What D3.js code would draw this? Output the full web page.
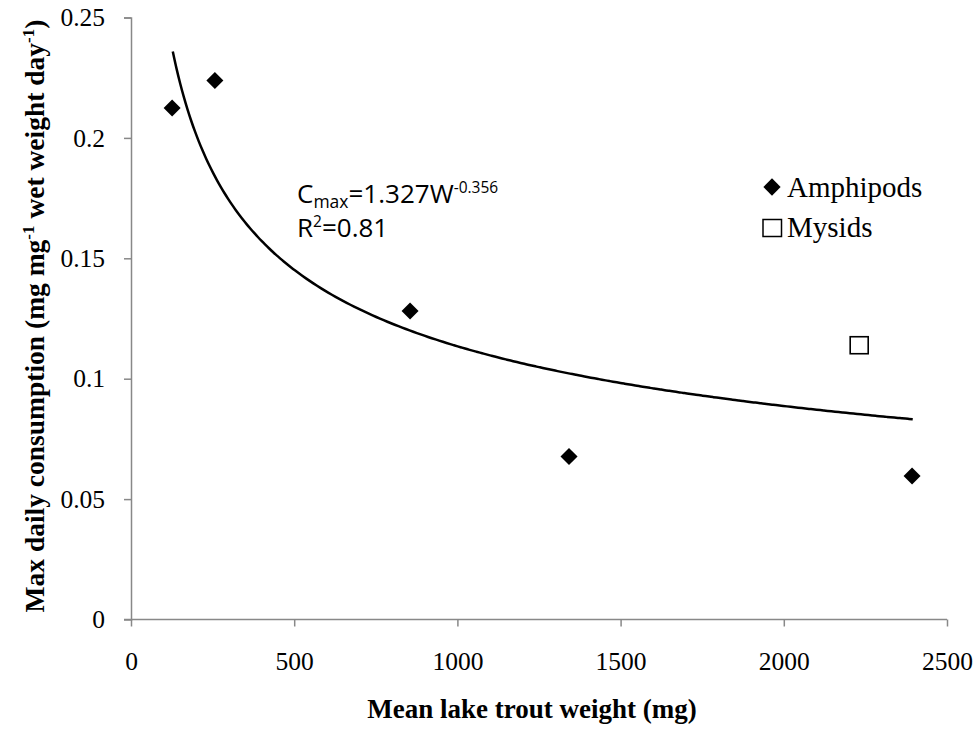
<!DOCTYPE html>
<html>
<head>
<meta charset="utf-8">
<script src="https://cdn.jsdelivr.net/npm/d3@7"></script>
<style>
  html, body { margin: 0; padding: 0; background: #fff; }
  svg { display: block; }
</style>
</head>
<body>
<svg id="chart" width="978" height="729"></svg>
<script>
// Lake trout consumption data
const amphipodWeight = [126, 257, 855, 1342, 2393];
const amphipodCmax = [0.2124, 0.2238, 0.1281, 0.0677, 0.0596];
const mysidWeight = [2231];
const mysidCmax = [0.1139];

const xTicks = [0, 500, 1000, 1500, 2000, 2500];
const yTicks = [0, 0.05, 0.1, 0.15, 0.2, 0.25];

// Power-law fit: Cmax = a * W^b
const fitA = 1.327;
const fitB = -0.356;

const svg = d3.select("#chart");
const margin = { left: 131, right: 31, top: 17.5, bottom: 109.5 };
const W = 978, H = 729;

const x = d3.scaleLinear().domain([0, 2500]).range([margin.left, W - margin.right]);
const y = d3.scaleLinear().domain([0, 0.25]).range([H - margin.bottom, margin.top]);

const axisColor = "#888";
const serif = "'Liberation Serif', 'Times New Roman', serif";
const sans = "'Open Sans', 'Liberation Sans', sans-serif";

// Axes
const xAxis = svg.append("g")
  .attr("transform", `translate(0,${y(0)})`)
  .call(d3.axisBottom(x).tickValues(xTicks).tickSize(7).tickPadding(25).tickFormat(d3.format("d")));
const yAxis = svg.append("g")
  .attr("transform", `translate(${x(0)},0)`)
  .call(d3.axisLeft(y).tickValues(yTicks).tickSize(7).tickPadding(19).tickFormat(d => d === 0 ? "0" : String(+d.toFixed(2))));

[xAxis, yAxis].forEach(g => {
  g.attr("font-family", serif).attr("font-size", 25.5);
  g.select(".domain").attr("stroke", axisColor).attr("stroke-width", 1.5);
  g.selectAll(".tick line").attr("stroke", axisColor).attr("stroke-width", 1.5);
  g.selectAll(".tick text")
    .attr("fill", "#000")
    .style("font-family", serif)
    .style("font-size", "25.5px");
});
// The x-axis line also carries the tick mark for y = 0
xAxis.select(".domain").attr("d", `M${x(0) - 7},0H${x(2500)}`);
yAxis.selectAll(".tick").filter(d => d === 0).select("line").remove();

// Trend line over the amphipod weight range
const wMin = d3.min(amphipodWeight) + 2, wMax = d3.max(amphipodWeight) + 2;
const fitPts = d3.range(0, 201).map(i => {
  const w = wMin + (wMax - wMin) * i / 200;
  return [w, fitA * Math.pow(w, fitB)];
});
svg.append("path")
  .datum(fitPts)
  .attr("fill", "none")
  .attr("stroke", "#000")
  .attr("stroke-width", 2.5)
  .attr("d", d3.line().x(d => x(d[0])).y(d => y(d[1])).curve(d3.curveMonotoneX));

// Amphipod markers (filled diamonds)
const diamond = d3.symbol().type(d3.symbolDiamond2).size(185);
svg.append("g").selectAll("path")
  .data(amphipodWeight.map((w, i) => [w, amphipodCmax[i]]))
  .join("path")
  .attr("d", diamond)
  .attr("transform", d => `translate(${x(d[0])},${y(d[1])})`)
  .attr("fill", "#000");

// Mysid markers (open squares)
svg.append("g").selectAll("rect")
  .data(mysidWeight.map((w, i) => [w, mysidCmax[i]]))
  .join("rect")
  .attr("x", d => x(d[0]) - 9)
  .attr("y", d => y(d[1]) - 8.5)
  .attr("width", 18)
  .attr("height", 17)
  .attr("fill", "#fff")
  .attr("stroke", "#000")
  .attr("stroke-width", 1.6);

// Equation label
const eq = svg.append("text")
  .attr("x", 297).attr("y", 203)
  .style("font-family", sans)
  .style("font-size", "26px")
  .attr("fill", "#000");
eq.append("tspan").text("C");
eq.append("tspan").attr("dy", 5).style("font-size", "17.5px").text("max");
eq.append("tspan").attr("dy", -5).text("=1.327W");
eq.append("tspan").attr("dy", -10).style("font-size", "15.5px").text("-0.356");

const r2 = svg.append("text")
  .attr("x", 297).attr("y", 237)
  .style("font-family", sans)
  .style("font-size", "26px")
  .attr("fill", "#000");
r2.append("tspan").text("R");
r2.append("tspan").attr("dy", -10).style("font-size", "15.5px").text("2");
r2.append("tspan").attr("dy", 10).text("=0.81");

// Legend
const legend = svg.append("g");
legend.append("path")
  .attr("d", d3.symbol().type(d3.symbolDiamond2).size(190))
  .attr("transform", "translate(772,187)")
  .attr("fill", "#000");
legend.append("text").attr("x", 787).attr("y", 196.5)
  .style("font-family", serif).style("font-size", "29px").text("Amphipods");
legend.append("rect")
  .attr("x", 763).attr("y", 219.5).attr("width", 18.5).attr("height", 17)
  .attr("fill", "#fff").attr("stroke", "#000").attr("stroke-width", 1.5);
legend.append("text").attr("x", 787).attr("y", 236.5)
  .style("font-family", serif).style("font-size", "29px").text("Mysids");

// Axis titles
svg.append("text")
  .attr("x", 532).attr("y", 718)
  .attr("text-anchor", "middle")
  .style("font-family", serif).style("font-size", "27px").style("font-weight", "bold")
  .text("Mean lake trout weight (mg)");

const yt = svg.append("text")
  .attr("transform", "translate(44,316) rotate(-90)")
  .attr("text-anchor", "middle")
  .style("font-family", serif).style("font-size", "27.5px").style("font-weight", "bold");
yt.append("tspan").text("Max daily consumption (mg mg");
yt.append("tspan").attr("dy", -10).style("font-size", "17px").text("-1");
yt.append("tspan").attr("dy", 10).text(" wet weight day");
yt.append("tspan").attr("dy", -10).style("font-size", "17px").text("-1");
yt.append("tspan").attr("dy", 10).text(")");
</script>
</body>
</html>
